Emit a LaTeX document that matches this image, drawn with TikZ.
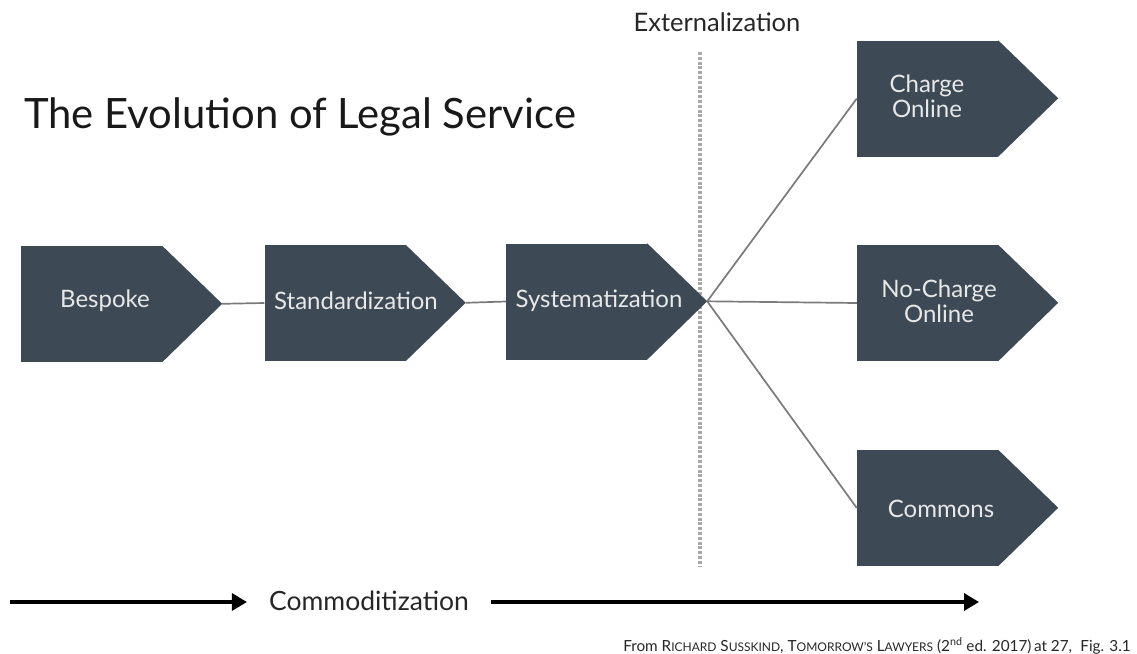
\documentclass[tikz,border=0pt]{standalone}
\usepackage{fontspec}
\setmainfont{Lato}
\usetikzlibrary{arrows.meta}
\definecolor{boxfill}{HTML}{3D4A55}
\definecolor{boxtext}{HTML}{E8E8E8}
\definecolor{linkgray}{HTML}{7A7A7A}
\definecolor{dotgray}{HTML}{A8A8A8}
\newcommand{\fakesc}[1]{{\fontsize{12}{14}\selectfont #1}}
\tikzset{
  box/.style={rectangle, fill=boxfill, draw=none, inner sep=0pt,
              minimum width=141pt, minimum height=116pt},
  tipfill/.style={fill=boxfill},
  label/.style={text=boxtext, font=\fontsize{24}{28}\selectfont, align=center, inner sep=0pt},
  link/.style={draw=linkgray, line width=1.7pt},
  bigarrow/.style={draw=black, line width=3.2pt, -{Triangle[length=15pt,width=17pt]}},
}
\newcommand{\pointedbox}[3]{%
  \node[box] (#1) at (#2) {};
  \fill[tipfill] (#1.north east) -- ++(60pt,-58pt) coordinate (#1-tip) -- (#1.south east) -- cycle;
}
\begin{document}
\begin{tikzpicture}[x=1pt,y=-1pt]
\useasboundingbox (0,0) rectangle (1137,653);

% title and heading
\node[anchor=west, inner sep=0pt, font=\fontsize{41.8}{48}\selectfont, text=black!90] (title) at (24,117) {The Evolution of Legal Service};
\node[inner sep=0pt, font=\fontsize{25.5}{30}\selectfont, text=black!85] (ext) at (717,22) {Externalization};

% dotted divider
\coordinate (div-top) at (700,52);
\coordinate (div-bot) at (700,567);
\draw[dotgray, line width=3.4pt, dash pattern=on 3pt off 1.8pt] (div-top) -- (div-bot);

% stages
\pointedbox{bes}{91.5,304}{}
\pointedbox{std}{335,303}{}
\pointedbox{sys}{576.5,301.5}{}
\pointedbox{chg}{927.5,98.5}{}
\pointedbox{noc}{927.5,303}{}
\pointedbox{com}{927.5,508}{}

\node[label] at (105,301) {Bespoke};
\node[label] at (356,301) {Standardization};
\node[label] at (599,301) {Systematization};
\node[label] at (927,96) {Charge\\[-3pt]Online};
\node[label] at (939,301) {No-Charge\\[-3pt]Online};
\node[label] at (941,509) {Commons};

% connectors
\draw[link] (bes-tip) -- (std.west);
\draw[link] (std-tip) -- (sys.west);
\draw[link] (sys-tip) -- (chg.west);
\draw[link] (sys-tip) -- (noc.west);
\draw[link] (sys-tip) -- (com.west);

% commoditization axis
\node[inner xsep=22pt, inner ysep=0pt, font=\fontsize{26.5}{30}\selectfont, text=black!85] (cmd) at (369,601) {Commoditization};
\coordinate (axis-start) at (10,602);
\coordinate (axis-end) at (979,602);
\draw[bigarrow] (axis-start) -- (axis-start -| cmd.west);
\draw[bigarrow] (axis-end -| cmd.east) -- (axis-end);

% source note
\node[anchor=east, inner sep=0pt, font=\fontsize{15.3}{18}\selectfont, text=black!85] (src) at (1131,646)
  {From R\fakesc{ICHARD} S\fakesc{USSKIND}, T\fakesc{OMORROW'S} L\fakesc{AWYERS} (2\textsuperscript{nd} ed. 2017)\,at 27,\; Fig. 3.1};
\end{tikzpicture}
\end{document}
